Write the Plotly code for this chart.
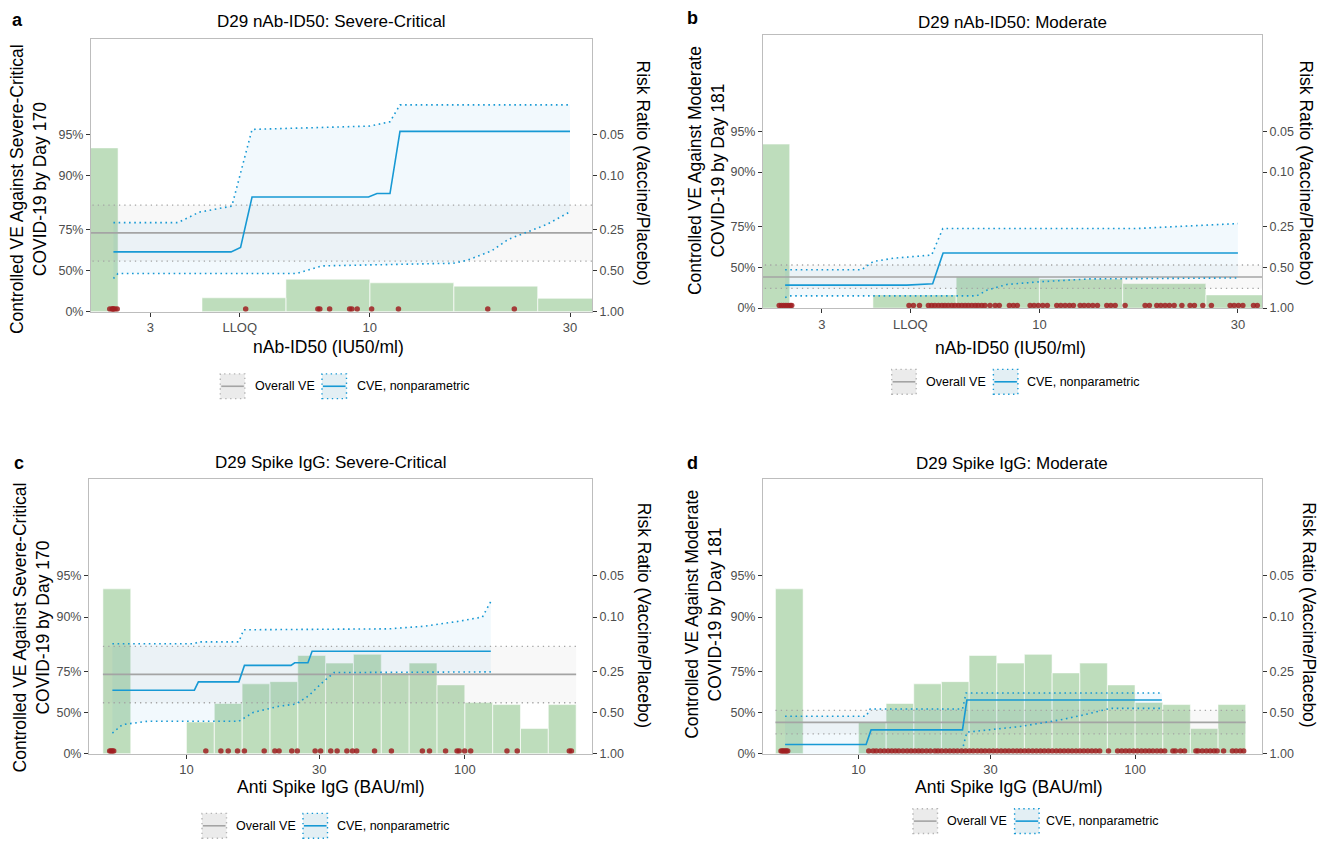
import plotly.graph_objects as go

W, H = 1330, 843
FONT = "Liberation Sans, Arial, Helvetica, sans-serif"

# ------------------------------------------------------------------ data
LLOQ_ID50 = 4.8975

# nAb-ID50 histogram (bins of 0.2 log10 units) - share of subcohort
ID50_EDGES = [1.585, 2.512, 3.981, 6.310, 10.0, 15.85, 25.12, 39.81]
A_HIST = [0.590, 0.0, 0.050, 0.117, 0.104, 0.092, 0.048]
B_HIST = [0.595, 0.0, 0.048, 0.114, 0.106, 0.089, 0.048]

# Spike IgG histogram (bins of 0.1 log10 units)
IGG_EDGES = [5.012, 6.310, 7.943, 10.0, 12.59, 15.85, 19.95, 25.12, 31.62,
             39.81, 50.12, 63.10, 79.43, 100.0, 125.9, 158.5, 199.5, 251.2]
C_HIST = [0.151, 0.0, 0.0, 0.029, 0.046, 0.064, 0.066, 0.090, 0.083, 0.091,
          0.074, 0.083, 0.063, 0.047, 0.045, 0.023, 0.045]
D_HIST = [0.151, 0.0, 0.0, 0.029, 0.046, 0.064, 0.066, 0.090, 0.083, 0.091,
          0.074, 0.083, 0.063, 0.047, 0.045, 0.023, 0.045]

# overall VE (estimate, lower, upper)
OVERALL_SC = [0.737, 0.576, 0.836]
OVERALL_MOD = [0.410, 0.283, 0.518]

# Panel a : D29 nAb-ID50, Severe-Critical
A_CVE_X = [2.449, 4.67, 4.92, 5.24, 9.93, 10.4, 11.17, 11.8, 30.0]
A_CVE_VE = [0.637, 0.637, 0.663, 0.857, 0.857, 0.865, 0.865, 0.953, 0.953]
A_UP_X = [2.449, 3.49, 3.92, 4.69, 5.24, 10.0, 11.17, 11.8, 30.0]
A_UP_VE = [0.779, 0.779, 0.815, 0.833, 0.9545, 0.957, 0.960, 0.970, 0.970]
A_LO_X = [2.449, 2.51, 6.69, 7.2, 7.69, 15.8, 17.0, 19.5, 21.4, 23.5, 26.4, 30.0]
A_LO_VE = [0.43, 0.476, 0.476, 0.51, 0.54, 0.56, 0.58, 0.643, 0.707, 0.738, 0.772, 0.816]
A_CASES = [2.40, 2.43, 2.45, 2.47, 2.50, 2.44, 5.06, 7.52, 7.60, 8.02, 8.95,
           9.06, 9.33, 10.1, 11.7, 19.1, 22.1]

# Panel b : D29 nAb-ID50, Moderate
B_CVE_X = [2.449, 4.80, 5.54, 5.87, 30.0]
B_CVE_VE = [0.323, 0.323, 0.338, 0.607, 0.607]
B_UP_X = [2.449, 3.74, 3.99, 4.45, 5.51, 5.86, 17.1, 30.0]
B_UP_VE = [0.478, 0.478, 0.546, 0.57, 0.593, 0.74, 0.74, 0.761]
B_LO_X = [2.449, 2.51, 7.07, 7.47, 8.35, 10.04, 13.2, 30.0]
B_LO_VE = [0.163, 0.187, 0.187, 0.26, 0.33, 0.36, 0.39, 0.40]
B_CASES = [2.37, 2.40, 2.43, 2.46, 2.49, 2.52, 2.54,
           4.86, 4.98, 5.15, 5.41, 5.51, 5.61, 5.72, 5.83, 5.93, 6.04, 6.16,
           6.27, 6.39, 6.51, 6.63, 6.75, 6.88, 7.01, 7.13, 7.27, 7.40, 7.61,
           7.83, 8.01, 8.47, 8.66, 8.85, 9.50, 9.71, 9.94, 10.19, 10.45, 11.01,
           11.26, 11.53, 11.81, 12.07, 12.53, 12.81, 13.12, 13.44, 13.79, 14.52,
           14.85, 15.21, 16.07, 17.95, 18.38, 19.15, 19.58, 20.05, 20.53, 21.08,
           22.0, 23.02, 23.58, 24.7, 25.9, 28.73, 29.38, 30.09, 30.83, 32.7, 33.4]

# Panel c : D29 Spike IgG, Severe-Critical
C_CVE_X = [5.42, 10.68, 11.04, 15.43, 16.16, 23.74, 24.49, 27.32, 28.28, 124.0]
C_CVE_VE = [0.657, 0.657, 0.702, 0.702, 0.774, 0.774, 0.784, 0.784, 0.822, 0.822]
C_UP_X = [5.42, 10.68, 11.04, 15.43, 16.04, 53.5, 70.8, 93.7, 115.7, 124.0]
C_UP_VE = [0.843, 0.843, 0.848, 0.848, 0.876, 0.878, 0.883, 0.892, 0.900, 0.923]
C_LO_X = [5.42, 5.89, 7.26, 15.43, 17.43, 21.5, 24.76, 27.5, 30.5, 33.9, 124.0]
C_LO_VE = [0.293, 0.387, 0.421, 0.421, 0.502, 0.55, 0.567, 0.623, 0.693, 0.745, 0.748]
C_CASES = [5.30, 5.36, 5.42, 5.48, 11.74, 13.3, 14.13, 15.26, 16.15, 19.03,
           20.78, 21.52, 23.9, 25.02, 29.0, 30.34, 33.0, 34.78, 37.7, 39.5,
           40.9, 47.4, 54.5, 70.4, 74.7, 85.3, 93.8, 95.4, 99.9, 105.0, 141.8,
           154.3, 237.4, 241.5]

# Panel d : D29 Spike IgG, Moderate
D_CVE_X = [5.43, 10.66, 11.11, 23.78, 24.66, 125.0]
D_CVE_VE = [0.144, 0.144, 0.33, 0.33, 0.595, 0.595]
D_UP_X = [5.43, 10.66, 11.02, 23.78, 24.5, 125.0]
D_UP_VE = [0.468, 0.468, 0.529, 0.529, 0.64, 0.64]
D_LO_X = [5.43, 23.78, 23.98, 24.66, 38.4, 53.6, 65.1, 81.3, 125.0]
D_LO_VE = [-0.35, -0.35, 0.13, 0.304, 0.367, 0.434, 0.479, 0.534, 0.534]
D_CASES = [5.25, 5.31, 5.37, 5.43, 5.49, 5.55,
           10.9, 11.3, 11.6, 12.0, 12.4, 12.8, 13.2, 13.6, 14.0, 14.5, 15.0,
           15.5, 16.0, 16.5, 17.0, 17.6, 18.2, 18.9, 19.4, 20.0, 20.7, 21.4,
           22.1, 22.8, 23.6, 24.4, 25.2, 26.0, 26.9, 27.8, 28.7, 29.7, 30.7,
           31.7, 32.8, 33.9, 35.0, 36.2, 37.4, 38.6, 39.9, 41.2, 42.6, 44.0,
           45.5, 47.0, 48.6, 50.2, 51.9, 53.6, 55.4, 57.3, 59.2, 61.2, 63.2,
           65.3, 67.5, 69.8, 72.1, 74.5, 80.2, 86.5, 89.5, 92.5, 95.5, 98.8,
           102.0, 105.5, 109.0, 112.5, 116.0, 120.0, 124.0, 128.0, 137.0, 140.0,
           146.0, 151.0, 166.0, 169.0, 175.0, 181.0, 187.0, 193.0, 198.0, 209.0,
           225.0, 232.0, 240.0, 247.0]

VE_TICKS = [0.0, 0.50, 0.75, 0.90, 0.95]
VE_TICK_TEXT = ["0%", "50%", "75%", "90%", "95%"]
RR_TICK_TEXT = ["1.00", "0.50", "0.25", "0.10", "0.05"]
ID50_TICKS = [3, LLOQ_ID50, 10, 30]
ID50_TICK_TEXT = ["3", "LLOQ", "10", "30"]
IGG_TICKS = [10, 30, 100]
IGG_TICK_TEXT = ["10", "30", "100"]

# ------------------------------------------------------------------ style
BLUE = "#1799d4"
GREY = "#a4a4a4"
GREEN = "rgb(190,221,188)"
RED = "rgba(160,32,34,0.85)"
BORDER = "#bdbdbd"
TICKC = "#333333"
TXT = "#4d4d4d"
CASE_RUG_VE = 0.045


def rr(ves):
    return [1.0 - v for v in ves]


def X(px):
    return px / W


def Y(py):
    return 1.0 - py / H


panels = [
    dict(letter="a", title="D29 nAb-ID50: Severe-Critical",
         ytitle="Controlled VE Against Severe-Critical<br>COVID-19 by Day 170",
         xtitle="nAb-ID50 (IU50/ml)",
         dom=(91, 592, 39, 314.3), xr=(0.3355, 1.5295),
         edges=ID50_EDGES, hist=A_HIST, overall=OVERALL_SC,
         cve=(A_CVE_X, A_CVE_VE), up=(A_UP_X, A_UP_VE), lo=(A_LO_X, A_LO_VE),
         cases=A_CASES, ticks=(ID50_TICKS, ID50_TICK_TEXT),
         letter_pos=(17, 20), title_pos=(331, 21.7), xt_pos=(328, 350),
         yt_pos=(28.7, 191), rt_pos=(643, 174),
         leg=(220.3, 253, 322, 355, 389.5)),
    dict(letter="b", title="D29 nAb-ID50: Moderate",
         ytitle="Controlled VE Against Moderate<br>COVID-19 by Day 181",
         xtitle="nAb-ID50 (IU50/ml)",
         dom=(763, 1262, 35, 310.7), xr=(0.3358, 1.535),
         edges=ID50_EDGES, hist=B_HIST, overall=OVERALL_MOD,
         cve=(B_CVE_X, B_CVE_VE), up=(B_UP_X, B_UP_VE), lo=(B_LO_X, B_LO_VE),
         cases=B_CASES, ticks=(ID50_TICKS, ID50_TICK_TEXT),
         letter_pos=(692, 18), title_pos=(1012, 22.3), xt_pos=(1010, 350.7),
         yt_pos=(706, 172.5), rt_pos=(1306, 174),
         leg=(891.7, 924, 993.4, 1025, 385)),
    dict(letter="c", title="D29 Spike IgG: Severe-Critical",
         ytitle="Controlled VE Against Severe-Critical<br>COVID-19 by Day 170",
         xtitle="Anti Spike IgG (BAU/ml)",
         dom=(89, 592, 483, 760), xr=(0.650, 2.457),
         edges=IGG_EDGES, hist=C_HIST, overall=OVERALL_SC,
         cve=(C_CVE_X, C_CVE_VE), up=(C_UP_X, C_UP_VE), lo=(C_LO_X, C_LO_VE),
         cases=C_CASES, ticks=(IGG_TICKS, IGG_TICK_TEXT),
         letter_pos=(19, 467), title_pos=(330.5, 466.7), xt_pos=(330.5, 794),
         yt_pos=(31.7, 633), rt_pos=(644, 620),
         leg=(202, 234.3, 303, 334.7, 832.7)),
    dict(letter="d", title="D29 Spike IgG: Moderate",
         ytitle="Controlled VE Against Moderate<br>COVID-19 by Day 181",
         xtitle="Anti Spike IgG (BAU/ml)",
         dom=(763, 1262, 483, 760), xr=(0.655, 2.459),
         edges=IGG_EDGES, hist=D_HIST, overall=OVERALL_MOD,
         cve=(D_CVE_X, D_CVE_VE), up=(D_UP_X, D_UP_VE), lo=(D_LO_X, D_LO_VE),
         cases=D_CASES, ticks=(IGG_TICKS, IGG_TICK_TEXT),
         letter_pos=(692, 467), title_pos=(1012, 467), xt_pos=(1009.3, 793.3),
         yt_pos=(704, 619), rt_pos=(1309, 619.5),
         leg=(913, 944.7, 1014.6, 1044.2, 828)),
]

fig = go.Figure()
layout = dict(width=W, height=H, margin=dict(l=0, r=0, t=0, b=0),
              autosize=False, showlegend=False, plot_bgcolor="white",
              paper_bgcolor="white", font=dict(family=FONT, color="black"))
annotations = []
shapes = []
YR = [0.0, -2.01]  # log10 risk ratio range: 1.00 at bottom, ~0.01 at top

for i, p in enumerate(panels):
    xid = "x" if i == 0 else f"x{i+1}"
    xname = "xaxis" if i == 0 else f"xaxis{i+1}"
    nb, nv, nr = 3 * i + 1, 3 * i + 2, 3 * i + 3
    yb = "y" if nb == 1 else f"y{nb}"
    yv, yr_ = f"y{nv}", f"y{nr}"
    ybname = "yaxis" if nb == 1 else f"yaxis{nb}"
    x0, x1, t, b = p["dom"]
    xdom = [X(x0), X(x1)]
    ydom = [Y(b), Y(t)]

    layout[xname] = dict(type="log", range=list(p["xr"]), domain=xdom,
                         anchor=yb, showgrid=False, zeroline=False,
                         showline=True, linecolor=BORDER, linewidth=1,
                         mirror=True, ticks="outside", ticklen=4,
                         tickcolor=TICKC, tickwidth=1,
                         tickvals=p["ticks"][0], ticktext=p["ticks"][1],
                         tickfont=dict(size=13, color=TXT, family=FONT))
    hmax = max(p["hist"])
    layout[ybname] = dict(range=[0, hmax / 0.6], domain=ydom, anchor=xid,
                          visible=False, fixedrange=True)
    layout[f"yaxis{nv}"] = dict(type="log", range=YR, overlaying=yb,
                                anchor=xid, side="left", showgrid=False,
                                zeroline=False, showline=True,
                                linecolor=BORDER, linewidth=1,
                                ticks="outside", ticklen=4, tickcolor=TICKC,
                                tickvals=rr(VE_TICKS), ticktext=VE_TICK_TEXT,
                                tickfont=dict(size=12.5, color=TXT, family=FONT))
    layout[f"yaxis{nr}"] = dict(type="log", range=YR, overlaying=yb,
                                anchor=xid, side="right", showgrid=False,
                                zeroline=False, showline=True,
                                linecolor=BORDER, linewidth=1,
                                ticks="outside", ticklen=4, tickcolor=TICKC,
                                tickvals=rr(VE_TICKS), ticktext=RR_TICK_TEXT,
                                tickfont=dict(size=12.5, color=TXT, family=FONT))

    # histogram (base axis -> drawn first)
    hx, hy = [], []
    for k, h in enumerate(p["hist"]):
        if h <= 0:
            continue
        e0, e1 = p["edges"][k], p["edges"][k + 1]
        hx += [e0, e0, e1, e1, e0, None]
        hy += [0, h, h, 0, 0, None]
    fig.add_trace(go.Scatter(x=hx, y=hy, xaxis=xid, yaxis=yb, mode="lines",
                             fill="toself", fillcolor=GREEN,
                             line=dict(color="rgba(255,255,255,0.7)", width=0.8),
                             hoverinfo="skip"))

    # overall VE band + lines
    ve, lo, hi = p["overall"]
    ex0, ex1 = p["edges"][0], p["edges"][-1]
    fig.add_trace(go.Scatter(x=[ex0, ex1, ex1, ex0, ex0],
                             y=rr([lo, lo, hi, hi, lo]), xaxis=xid, yaxis=yv,
                             mode="lines", fill="toself",
                             fillcolor="rgba(150,150,150,0.07)",
                             line=dict(width=0), hoverinfo="skip"))
    # CVE band
    ux, uv = p["up"]
    lx, lv = p["lo"]
    fig.add_trace(go.Scatter(x=list(ux) + list(lx)[::-1],
                             y=rr(list(uv) + list(lv)[::-1]),
                             xaxis=xid, yaxis=yv, mode="lines", fill="toself",
                             fillcolor="rgba(27,154,214,0.055)",
                             line=dict(width=0), hoverinfo="skip"))
    for v in (lo, hi):
        fig.add_trace(go.Scatter(x=[ex0, ex1], y=rr([v, v]), xaxis=xid,
                                 yaxis=yv, mode="lines",
                                 line=dict(color=GREY, width=1.3,
                                           dash="1.3px,4px"),
                                 hoverinfo="skip"))
    fig.add_trace(go.Scatter(x=[ex0, ex1], y=rr([ve, ve]), xaxis=xid,
                             yaxis=yv, mode="lines",
                             line=dict(color=GREY, width=1.6),
                             hoverinfo="skip"))
    for (bx, bv) in (p["up"], p["lo"]):
        fig.add_trace(go.Scatter(x=bx, y=rr(bv), xaxis=xid, yaxis=yv,
                                 mode="lines",
                                 line=dict(color=BLUE, width=1.6,
                                           dash="1.6px,3.6px"),
                                 hoverinfo="skip"))
    cx, cv = p["cve"]
    fig.add_trace(go.Scatter(x=cx, y=rr(cv), xaxis=xid, yaxis=yv,
                             mode="lines", line=dict(color=BLUE, width=1.6),
                             hoverinfo="skip"))
    # cases rug
    fig.add_trace(go.Scatter(x=p["cases"], y=rr([CASE_RUG_VE] * len(p["cases"])),
                             xaxis=xid, yaxis=yv, mode="markers",
                             marker=dict(color=RED, size=5.5, line=dict(width=0)),
                             hoverinfo="skip"))
    # keeps right axis alive
    fig.add_trace(go.Scatter(x=[p["edges"][-2]], y=[1.0], xaxis=xid, yaxis=yr_,
                             mode="markers", marker=dict(opacity=0),
                             hoverinfo="skip"))

    # texts
    lxp, lyp = p["letter_pos"]
    annotations.append(dict(x=X(lxp), y=Y(lyp), xref="paper", yref="paper",
                            text=f"<b>{p['letter']}</b>", showarrow=False,
                            xanchor="center", yanchor="middle",
                            font=dict(size=18, color="black", family=FONT)))
    tx, ty = p["title_pos"]
    annotations.append(dict(x=X(tx), y=Y(ty), xref="paper", yref="paper",
                            text=p["title"], showarrow=False, xanchor="center",
                            yanchor="middle",
                            font=dict(size=17, color="black", family=FONT)))
    tx, ty = p["xt_pos"]
    annotations.append(dict(x=X(tx), y=Y(ty), xref="paper", yref="paper",
                            text=p["xtitle"], showarrow=False, xanchor="center",
                            yanchor="middle",
                            font=dict(size=17.5, color="black", family=FONT)))
    tx, ty = p["yt_pos"]
    annotations.append(dict(x=X(tx), y=Y(ty), xref="paper", yref="paper",
                            text=p["ytitle"], showarrow=False, textangle=-90,
                            xanchor="center", yanchor="middle",
                            font=dict(size=17.5, color="black", family=FONT)))
    tx, ty = p["rt_pos"]
    annotations.append(dict(x=X(tx), y=Y(ty), xref="paper", yref="paper",
                            text="Risk Ratio (Vaccine/Placebo)", showarrow=False,
                            textangle=90, xanchor="center", yanchor="middle",
                            font=dict(size=17.5, color="black", family=FONT)))

    # legend
    k1, t1, k2, t2, cy = p["leg"]
    kw, kh = 24.5, 25
    for kx, fill, edge, lc, txt, tpx in (
            (k1, "#ebebeb", "#b5b5b5", GREY, "Overall VE", t1),
            (k2, "#e3eff4", BLUE, BLUE, "CVE, nonparametric", t2)):
        shapes.append(dict(type="rect", xref="paper", yref="paper",
                           x0=X(kx), x1=X(kx + kw), y0=Y(cy + kh / 2),
                           y1=Y(cy - kh / 2), fillcolor=fill,
                           line=dict(color=edge, width=1.4, dash="1.4px,3.5px")))
        shapes.append(dict(type="line", xref="paper", yref="paper",
                           x0=X(kx + 1), x1=X(kx + kw - 1), y0=Y(cy), y1=Y(cy),
                           line=dict(color=lc, width=1.6)))
        annotations.append(dict(x=X(tpx), y=Y(cy), xref="paper", yref="paper",
                                text=txt, showarrow=False, xanchor="left",
                                yanchor="middle",
                                font=dict(size=12.5, color="black", family=FONT)))

layout["annotations"] = annotations
layout["shapes"] = shapes
fig.update_layout(**layout)
fig.write_html("out.html")
